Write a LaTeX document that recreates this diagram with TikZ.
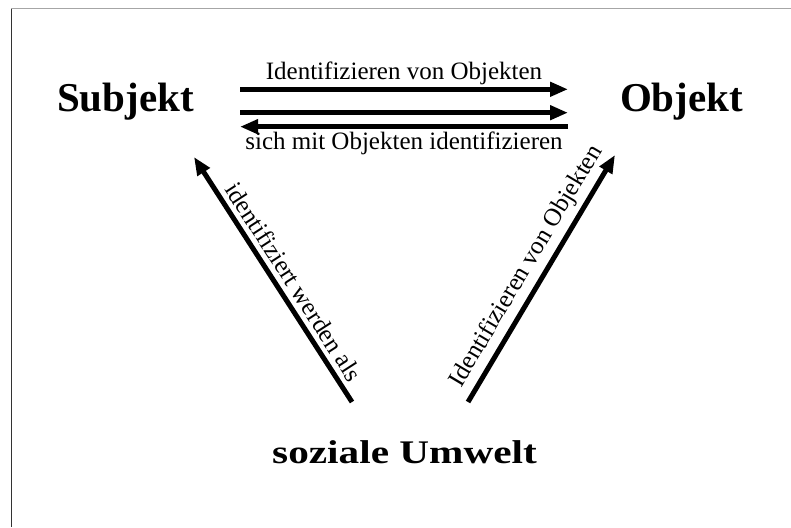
\documentclass[tikz,border=0pt]{standalone}
\usepackage{fontspec}
\setmainfont{Liberation Serif}
\usetikzlibrary{arrows.meta}

\tikzset{
    pfeil/.style={line width=5pt, -{Triangle[length=18pt,width=14pt]}},
    begriff/.style={font=\fontsize{41}{49}\bfseries, anchor=base, inner sep=0pt},
    beschriftung/.style={font=\fontsize{25}{30}\selectfont, inner sep=0pt},
}

\begin{document}
\begin{tikzpicture}[x=1pt,y=1pt]
    \useasboundingbox (0,0) rectangle (791,527);
    \draw[black!35, line width=1pt] (11,518) -- (791,518);
    \draw[black!80, line width=1pt] (11,518) -- (11,0);

    \node[begriff] (subjekt) at (125.5,415) {Subjekt};
    \node[begriff] (objekt) at (681.5,415) {Objekt};
    \node[begriff, font=\fontsize{33}{40}\bfseries] (umwelt) at (404.5,64)
        {\scalebox{1.25}[1]{soziale Umwelt}};

    \coordinate (s1) at (240,437.7);
    \coordinate (o1) at (568,437.7);
    \coordinate (s2) at (240,414.3);
    \coordinate (o2) at (568,414.3);
    \coordinate (s3) at (240,400.3);
    \coordinate (o3) at (568,400.3);
    \coordinate (u1) at (352,125);
    \coordinate (s4) at (194,370);
    \coordinate (u2) at (468,125);
    \coordinate (o4) at (615,372);

    \draw[pfeil] (s1) -- (o1)
        node[beschriftung, midway, anchor=base, yshift=9.3pt] {Identifizieren von Objekten};
    \draw[pfeil] (s2) -- (o2);
    \draw[pfeil] (o3) -- (s3)
        node[beschriftung, midway, anchor=base, yshift=-23.3pt] {sich mit Objekten identifizieren};

    \draw[pfeil] (u1) -- (s4)
        node[beschriftung, pos=0.455, sloped, above=5pt] {identifiziert werden als};
    \draw[pfeil] (u2) -- (o4)
        node[beschriftung, pos=0.51, sloped, above=5pt] {Identifizieren von Objekten};
\end{tikzpicture}
\end{document}
